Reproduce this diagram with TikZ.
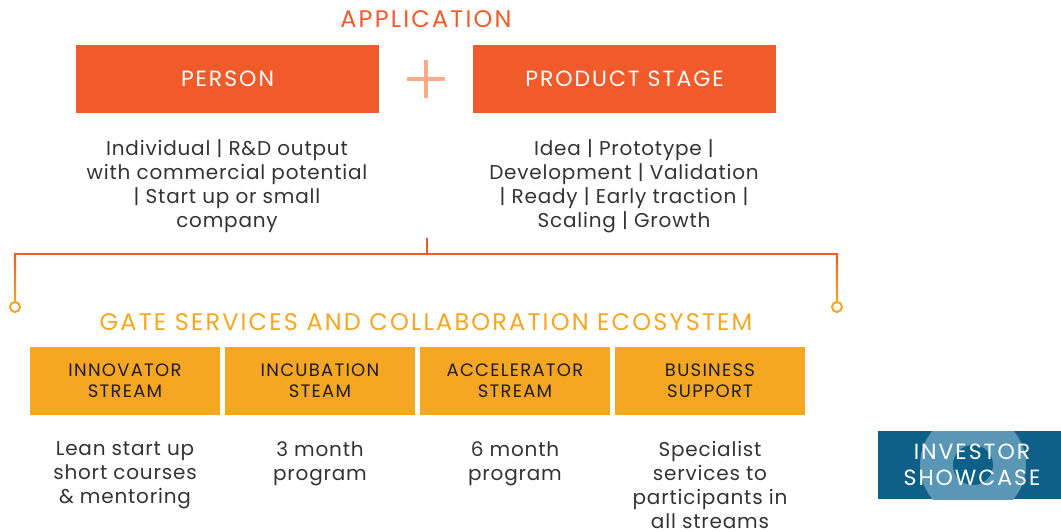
\documentclass[tikz,border=0pt]{standalone}
\usepackage{fontspec}
\setmainfont{Poppins}
\newfontfamily\ttlfont[LetterSpace=9]{Poppins}
\newfontfamily\bodyfont[LetterSpace=4]{Poppins}
\newfontfamily\gfont[LetterSpace=7]{Poppins}
\definecolor{appor}{HTML}{F15A2B}
\definecolor{plusor}{HTML}{F9AC87}
\definecolor{gateyl}{HTML}{F5A623}
\definecolor{invblue}{HTML}{0F6089}
\definecolor{ringblue}{HTML}{5A96B5}
\definecolor{bodygray}{HTML}{333333}
\definecolor{darktxt}{HTML}{1E1E1E}
\tikzset{
  apbox/.style={fill=appor, minimum width=303pt, minimum height=68pt, inner sep=0pt, text=white, font=\ttlfont\fontsize{22}{26}\selectfont},
  gbox/.style={fill=gateyl, minimum width=190pt, minimum height=68pt, inner sep=0pt, text=darktxt, align=center, font=\gfont\fontsize{18}{21}\selectfont},
  bodytxt/.style={text=bodygray, align=center, anchor=north, font=\bodyfont\fontsize{20}{24}\selectfont, inner sep=0pt},
  title/.style={font=\ttlfont\fontsize{24}{28}\selectfont, inner sep=0pt},
  conn/.style={draw=appor, line width=2.2pt},
  dot/.style={circle, draw=gateyl, line width=2pt, fill=white, minimum size=10pt, inner sep=0pt},
}
\begin{document}
\begin{tikzpicture}[x=1pt,y=-1pt]
\useasboundingbox (0,0) rectangle (1061,532);
% application
\node[title, text=appor] (app) at (426,19) {APPLICATION};
\node[apbox] (person) at (227.5,79) {PERSON};
\node[apbox] (product) at (624.5,79) {PRODUCT STAGE};
\coordinate (plus) at (426,79);
\draw[plusor, line width=4pt] ([xshift=-19pt]plus) -- ([xshift=19pt]plus) ([yshift=19pt]plus) -- ([yshift=-19pt]plus);
\node[bodytxt] (persontxt) at (227,139) {Individual | R\&D output\\with commercial potential\\| Start up or small\\company};
\node[bodytxt] (producttxt) at (624,139) {Idea | Prototype |\\Development | Validation\\| Ready | Early traction |\\Scaling | Growth};
% connector
\coordinate (ctop) at (427,238);
\coordinate (cmid) at (427,254);
\coordinate (cl) at (15,254);
\coordinate (cr) at (837,254);
\draw[conn] (ctop) -- (cmid);
\draw[conn] (cl) -- (cr);
\shade[top color=appor, bottom color=gateyl] (13.9,253) rectangle (16.1,302);
\shade[top color=appor, bottom color=gateyl] (835.9,253) rectangle (838.1,302);
\node[dot] (dl) at (15,307) {};
\node[dot] (dr) at (837,307) {};
% gate
\node[title, text=gateyl] (gate) at (426,322) {GATE SERVICES AND COLLABORATION ECOSYSTEM};
\node[gbox] (inn) at (125,381) {INNOVATOR\\STREAM};
\node[gbox] (inc) at (320,381) {INCUBATION\\STEAM};
\node[gbox] (acc) at (515,381) {ACCELERATOR\\STREAM};
\node[gbox] (bus) at (710,381) {BUSINESS\\SUPPORT};
\node[bodytxt] (inntxt) at (125,441) {Lean start up\\short courses\\\& mentoring};
\node[bodytxt] (inctxt) at (320,441) {3 month\\program};
\node[bodytxt] (acctxt) at (515,441) {6 month\\program};
\node[bodytxt] (bustxt) at (710,441) {Specialist\\services to\\participants in\\all streams};
% investor
\begin{scope}
\clip (878,431) rectangle (1061,499);
\fill[invblue] (878,431) rectangle (1061,499);
\fill[ringblue] (973,465) circle (53);
\fill[invblue] (973,465) circle (20);
\end{scope}
\node[text=white, align=center, font=\ttlfont\fontsize{22}{26}\selectfont, inner sep=0pt] (inv) at (972,465) {INVESTOR\\SHOWCASE};
\end{tikzpicture}
\end{document}
